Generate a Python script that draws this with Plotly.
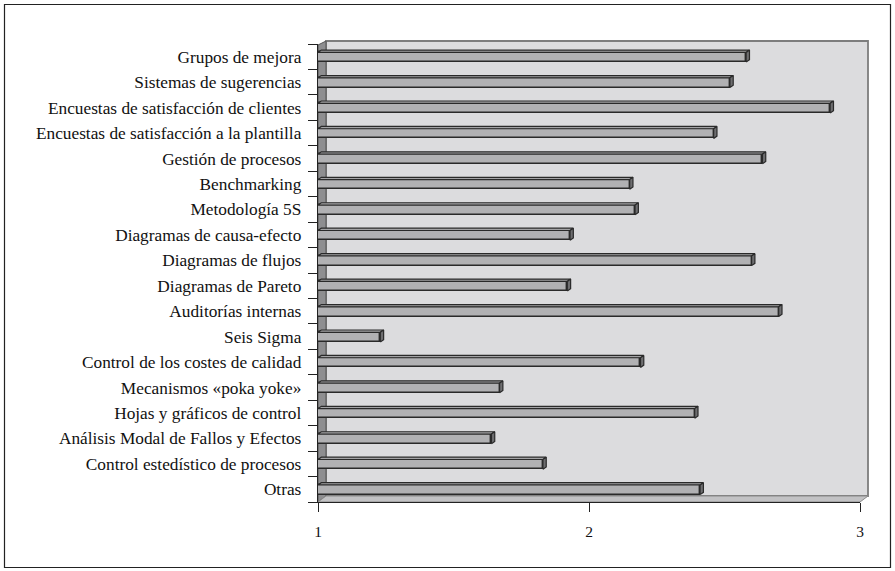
import plotly.graph_objects as go

categories = [
    "Grupos de mejora",
    "Sistemas de sugerencias",
    "Encuestas de satisfacción de clientes",
    "Encuestas de satisfacción a la plantilla",
    "Gestión de procesos",
    "Benchmarking",
    "Metodología 5S",
    "Diagramas de causa-efecto",
    "Diagramas de flujos",
    "Diagramas de Pareto",
    "Auditorías internas",
    "Seis Sigma",
    "Control de los costes de calidad",
    "Mecanismos «poka yoke»",
    "Hojas y gráficos de control",
    "Análisis Modal de Fallos y Efectos",
    "Control estedístico de procesos",
    "Otras",
]
values = [2.58, 2.52, 2.89, 2.46, 2.64, 2.15, 2.17, 1.93, 2.60, 1.92,
          2.70, 1.23, 2.19, 1.67, 2.39, 1.64, 1.83, 2.41]
x_ticks = [1, 2, 3]
x_min, x_max = 1, 3

W, H = 895, 571
L, R, T, B = 318, 860, 44, 502  # plot area in pixels
n = len(categories)
ypos = [n - 1 - i for i in range(n)]

def px(X):
    return (X - L) / (R - L)

def py(Y):
    return (B - Y) / (B - T)

# 3D styling (pixel offsets converted to data units)
DX = 3.3 / (R - L) * (x_max - x_min)
DY = 2.3 / (B - T) * n
BAR_H = 0.38
SHIFT = -0.02

FONT = "Liberation Serif, Times New Roman, serif"
fig = go.Figure()

fig.add_trace(go.Bar(
    orientation="h",
    y=[p + SHIFT for p in ypos],
    x=[v - x_min for v in values],
    base=x_min,
    width=BAR_H,
    marker=dict(color="#b1b1b3", line=dict(color="#2a2a2a", width=1.4)),
    hoverinfo="skip",
    showlegend=False,
))

# top faces and end caps
for p, v in zip(ypos, values):
    yt = p + SHIFT + BAR_H / 2
    yb = p + SHIFT - BAR_H / 2
    fig.add_trace(go.Scatter(
        x=[x_min, v, v + DX, x_min + DX, x_min],
        y=[yt, yt, yt + DY, yt + DY, yt],
        mode="lines", fill="toself", fillcolor="#a3a3a5",
        line=dict(color="#2a2a2a", width=1.2),
        hoverinfo="skip", showlegend=False, cliponaxis=False,
    ))
    fig.add_trace(go.Scatter(
        x=[v, v + DX, v + DX, v, v],
        y=[yb, yb + DY, yt + DY, yt, yb],
        mode="lines", fill="toself", fillcolor="#6e6e70",
        line=dict(color="#2a2a2a", width=1.2),
        hoverinfo="skip", showlegend=False, cliponaxis=False,
    ))

shapes = [
    # back wall
    dict(type="rect", xref="paper", yref="paper",
         x0=px(326), x1=px(868), y0=py(496), y1=py(41),
         fillcolor="#dcdcde", line=dict(color="#7d7d7d", width=1.8), layer="below"),
    # left wall
    dict(type="path", xref="paper", yref="paper",
         path=f"M {px(318)},{py(502)} L {px(318)},{py(45)} L {px(326)},{py(41)} L {px(326)},{py(496)} Z",
         fillcolor="#8e8e90", line=dict(color="#555555", width=1), layer="below"),
    # floor
    dict(type="path", xref="paper", yref="paper",
         path=f"M {px(318)},{py(502)} L {px(860)},{py(502)} L {px(868)},{py(496)} L {px(326)},{py(496)} Z",
         fillcolor="#c2c2c4", line=dict(color="#8a8a8a", width=1), layer="below"),
    # outer frame
    dict(type="rect", xref="paper", yref="paper",
         x0=px(4.5), x1=px(890.5), y0=py(567.5), y1=py(4.5),
         fillcolor="rgba(0,0,0,0)", line=dict(color="#222222", width=1.2), layer="above"),
]

fig.update_layout(
    width=W, height=H,
    margin=dict(l=L, r=W - R, t=T, b=H - B, pad=0),
    paper_bgcolor="white", plot_bgcolor="rgba(0,0,0,0)",
    font=dict(family=FONT, size=17, color="#111111"),
    shapes=shapes,
    bargap=0,
)
fig.update_xaxes(
    range=[x_min, x_max], tickvals=x_ticks, ticktext=[str(t) for t in x_ticks],
    ticks="outside", ticklen=9, tickwidth=1.2, tickcolor="#222222",
    showline=True, linecolor="#222222", linewidth=1.4,
    showgrid=False, zeroline=False,
    ticklabelstandoff=6,
    tickfont=dict(family=FONT, size=15.5, color="#111111"),
)
fig.update_yaxes(
    range=[-0.5, n - 0.5], tickvals=ypos, ticktext=categories,
    ticks="outside", ticklen=12, tickcolor="rgba(0,0,0,0)",
    showline=True, linecolor="#222222", linewidth=1.4,
    showgrid=False, zeroline=False,
    tickfont=dict(family=FONT, size=17.3, color="#111111"),
    minor=dict(tickmode="array", tickvals=[i + 0.5 for i in range(-1, n)],
               ticks="outside", ticklen=9, tickwidth=1.2, tickcolor="#222222",
               showgrid=False),
)

fig.write_html(
    "out.html",
    config={"displayModeBar": False},
    post_script="document.body.style.margin='0';document.body.style.padding='0';document.body.style.overflow='hidden';",
)
